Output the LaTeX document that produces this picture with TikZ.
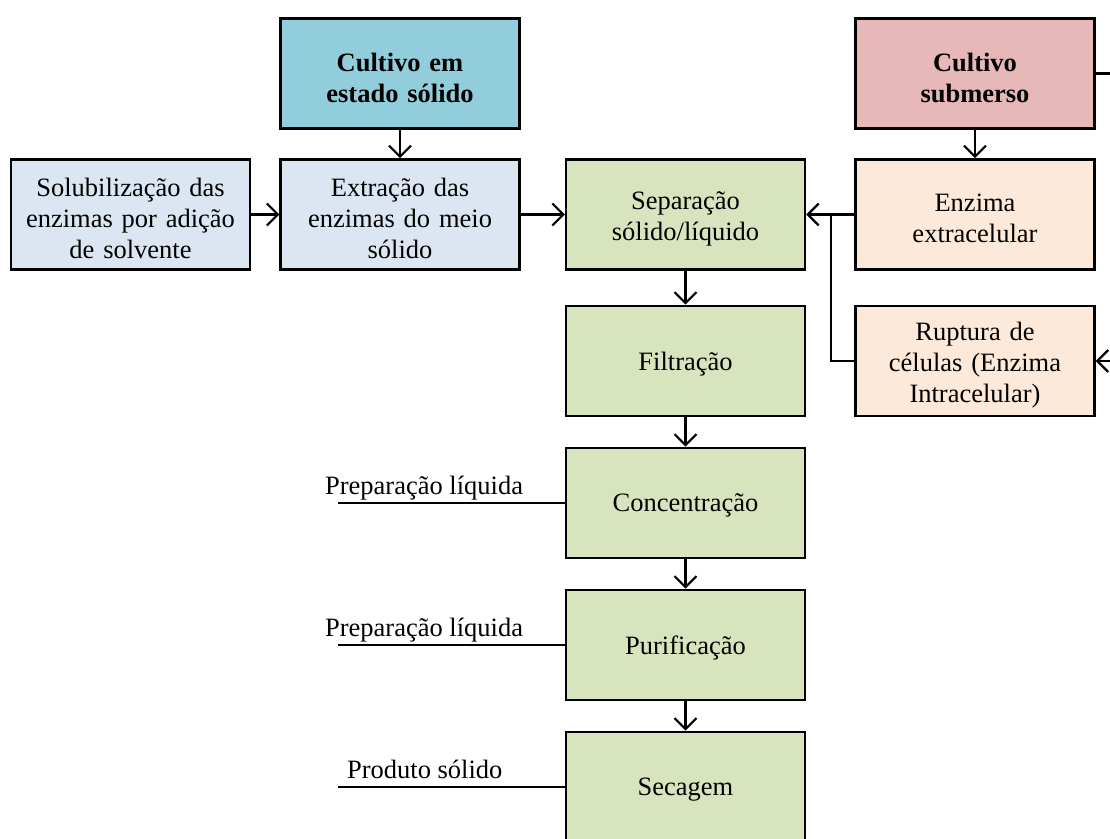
\documentclass[tikz,border=0pt]{standalone}
\usepackage{fontspec}
\setmainfont{Liberation Serif}
\usetikzlibrary{arrows.meta}
\definecolor{azulA}{RGB}{146,205,220}
\definecolor{rosaA}{RGB}{230,185,184}
\definecolor{azulB}{RGB}{220,230,242}
\definecolor{verde}{RGB}{215,228,189}
\definecolor{pele}{RGB}{253,233,217}
\newcommand{\fimcaixa}{\par\vspace{-8pt}}
\begin{document}
\begin{tikzpicture}[x=1pt, y=-1pt, >={Straight Barb[length=11pt,width=22pt]}, line width=2.2pt]
\tikzstyle{etapa}=[rectangle,draw,line width=2.6pt,minimum width=237pt,minimum height=110pt,align=center,text width=232pt,execute at end node=\fimcaixa,font=\fontsize{26.5}{31}\selectfont]
\tikzstyle{rotulo}=[inner sep=0pt,font=\fontsize{26.5}{31}\selectfont]
\useasboundingbox (0,0) rectangle (1110,838);
\clip (0,0) rectangle (1110,838);
\node[etapa,fill=azulA](ce) at (400,73.5) {\textbf{Cultivo em}\\\textbf{estado sólido}};
\node[etapa,fill=rosaA](cs) at (975,73.5) {\textbf{Cultivo}\\\textbf{submerso}};
\node[etapa,fill=azulB](sol) at (130.5,214.5) {Solubilização das\\enzimas por adição\\de solvente};
\node[etapa,fill=azulB](ext) at (400,214.5) {Extração das\\enzimas do meio\\sólido};
\node[etapa,fill=verde](sep) at (685.5,214.5) {Separação\\sólido/líquido};
\node[etapa,fill=pele](enz) at (975,214.5) {Enzima\\extracelular};
\node[etapa,fill=pele](rup) at (975,361) {Ruptura de\\células (Enzima\\Intracelular)};
\node[etapa,fill=verde](fil) at (685.5,361) {Filtração};
\node[etapa,fill=verde](con) at (685.5,503) {Concentração};
\node[etapa,fill=verde](pur) at (685.5,645) {Purificação};
\node[etapa,fill=verde](sec) at (685.5,787) {Secagem};
\coordinate (jn) at (831,214.5);
\coordinate (csout) at (1115,73.5);
\coordinate (rupin) at (1115,361);
\coordinate (e1) at (338,503);
\coordinate (e2) at (338,645);
\coordinate (e3) at (338,787);
\draw[->] (ce) -- (ext);
\draw[->] (sol) -- (ext);
\draw[->] (ext) -- (sep);
\draw[->] (cs) -- (enz);
\draw[->] (enz) -- (sep);
\draw (rup.west) -| (jn);
\draw (cs.east) -- (csout);
\draw[->] (rupin) -- (rup.east);
\draw[->] (sep) -- (fil);
\draw[->] (fil) -- (con);
\draw[->] (con) -- (pur);
\draw[->] (pur) -- (sec);
\draw (e1) -- (con.west);
\draw (e2) -- (pur.west);
\draw (e3) -- (sec.west);
\node[rotulo,anchor=base west](l1) at (324,494) {Preparação líquida};
\node[rotulo,anchor=base west](l2) at (324,636) {Preparação líquida};
\node[rotulo,anchor=base west](l3) at (346,778) {Produto sólido};
\end{tikzpicture}
\end{document}
